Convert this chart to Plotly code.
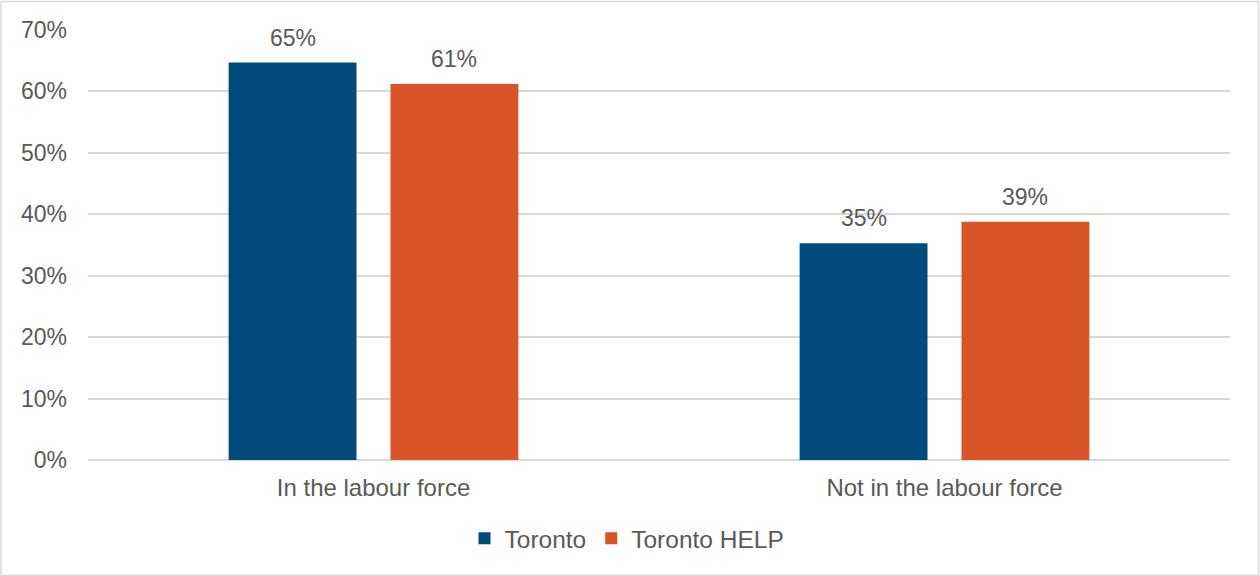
import plotly.graph_objects as go

categories = ["In the labour force", "Not in the labour force"]
toronto = [64.7, 35.3]
toronto_help = [61.2, 38.8]
series_names = ["Toronto", "Toronto HELP"]
y_ticks = [0, 10, 20, 30, 40, 50, 60, 70]
y_tick_text = [f"{v}%" for v in y_ticks]

W, H = 1260, 576
ml, mr, mt, mb = 88, 30, 30, 116
FONT = "Liberation Sans, Arial, sans-serif"
TXT = "#595959"
FS = 23

pw = W - ml - mr
ph = H - mt - mb
bargap, bargroupgap = 0.433, 0.21
slot_px = (1 - bargap) * pw / len(categories) / 2

fig = go.Figure()
series = [(series_names[0], toronto, "#004B7C", -0.5),
          (series_names[1], toronto_help, "#D95429", 0.5)]
for name, vals, col, off in series:
    fig.add_trace(go.Bar(
        x=categories, y=vals, name=name, marker=dict(color=col, line=dict(width=0)),
    ))
    for c, v in zip(categories, vals):
        fig.add_annotation(x=c, y=v, text=f"{v:.0f}%", showarrow=False,
                           xshift=off * slot_px, yshift=10, yanchor="bottom",
                           font=dict(family=FONT, size=FS, color=TXT))

fig.add_shape(type="rect", xref="paper", yref="paper",
              x0=(-ml + 1) / pw, x1=(pw + mr - 1.5) / pw,
              y0=(-mb + 0.5) / ph, y1=(ph + mt - 1.5) / ph,
              line=dict(color="#D9D9D9", width=1.5), fillcolor="rgba(0,0,0,0)", layer="below")

fig.update_layout(
    width=W, height=H, margin=dict(l=ml, r=mr, t=mt, b=mb),
    paper_bgcolor="white", plot_bgcolor="white",
    barmode="group", bargap=bargap, bargroupgap=bargroupgap,
    font=dict(family=FONT, size=FS, color=TXT),
    showlegend=True,
    legend=dict(orientation="h", x=0.472, xanchor="center", y=-0.13, yanchor="top",
                font=dict(family=FONT, size=24.5, color=TXT), traceorder="normal",
                itemwidth=30, itemsizing="constant"),
    xaxis=dict(showgrid=False, showline=False, ticks="", ticklabelstandoff=11,
               tickfont=dict(size=24, color=TXT)),
    yaxis=dict(range=[0, 70], tickvals=y_ticks, ticktext=y_tick_text, showgrid=True,
               gridcolor="#D9D9D9", gridwidth=1.5, zeroline=True, zerolinecolor="#D9D9D9",
               zerolinewidth=1.5, showline=False, ticks="", ticklabelstandoff=20,
               tickfont=dict(size=FS, color=TXT)),
)

fig.write_html("out.html")
